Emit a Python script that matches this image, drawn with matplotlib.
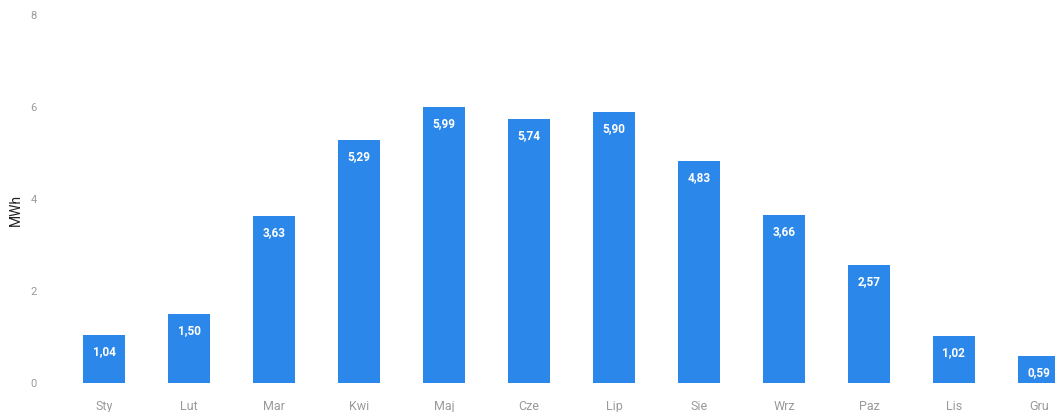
import matplotlib
matplotlib.use("Agg")
import matplotlib.pyplot as plt

months = ["Sty", "Lut", "Mar", "Kwi", "Maj", "Cze", "Lip", "Sie", "Wrz", "Paz", "Lis", "Gru"]
energy_mwh = [1.04, 1.50, 3.63, 5.29, 5.99, 5.74, 5.90, 4.83, 3.66, 2.57, 1.02, 0.59]
y_ticks = [0, 2, 4, 6, 8]

plt.rcParams['font.family'] = ['Roboto', 'DejaVu Sans']

fig = plt.figure(figsize=(10.55, 4.12), dpi=100)
ax = fig.add_axes([60 / 1055, 29 / 412, 1 - 60 / 1055, 368 / 412])

x = list(range(len(months)))
bars = ax.bar(x, energy_mwh, width=0.5, color="#2b87ea", zorder=2)

# value labels inside the top of each bar
for xi, v in zip(x, energy_mwh):
    ax.text(xi, v - 0.22, f"{v:.2f}".replace(".", ","), ha="center", va="top",
            color="white", fontsize=8.5, fontweight="bold")

ax.set_xlim(-0.52, 11.19)
ax.set_ylim(0, 8)
ax.set_xticks(x)
ax.set_xticklabels(months, color="#9a9a9a", fontsize=9)
ax.set_yticks(y_ticks)
ax.set_yticklabels([str(t) for t in y_ticks], color="#9a9a9a", fontsize=8)
ax.tick_params(axis="x", length=0, pad=12)
ax.tick_params(axis="y", length=0, pad=19)
for lbl in ax.get_yticklabels():
    lbl.set_horizontalalignment("center")

# axis title placed by hand so it sits near the left edge
fig.text(16 / 1055, 1 - 210 / 412, "MWh", rotation=90, ha="center", va="center",
         fontsize=10, color="#222222")

for s in ax.spines.values():
    s.set_visible(False)

fig.savefig("out.png", dpi=100)
